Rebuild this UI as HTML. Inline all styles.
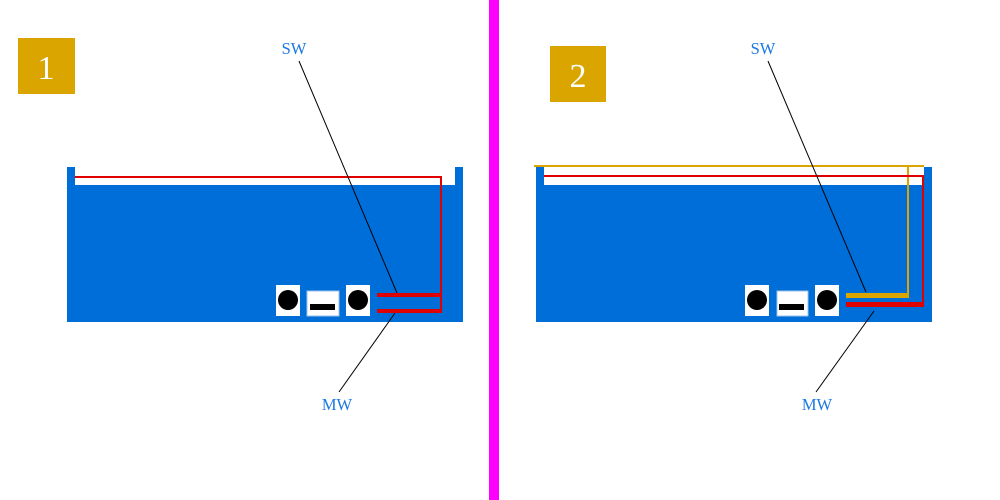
<!DOCTYPE html>
<html><head><style>html,body{margin:0;padding:0;background:#fff;}svg{display:block}</style></head>
<body>
<svg width="1000" height="500" xmlns="http://www.w3.org/2000/svg">
<rect x="0" y="0" width="1000" height="500" fill="#fff"/>
<rect x="489" y="0" width="10" height="500" fill="#ff00ff"/>
<!-- Panel 1 -->
<rect x="18" y="38" width="57" height="56" fill="#dba500"/>
<text x="46" y="79" font-family="Liberation Serif, serif" font-size="34" fill="#fff" text-anchor="middle">1</text>
<rect x="67" y="167" width="8" height="155" fill="#006ed8"/>
<rect x="455" y="167" width="8" height="155" fill="#006ed8"/>
<rect x="67" y="185" width="396" height="137" fill="#006ed8"/>
<rect x="75" y="176" width="367" height="2" fill="#e00000"/>
<rect x="440" y="176" width="2" height="137" fill="#e00000"/>
<rect x="377" y="293" width="65" height="4" fill="#e00000"/>
<rect x="377" y="309" width="65" height="4" fill="#e00000"/>
<rect x="276" y="285" width="24" height="31" fill="#fff"/>
<circle cx="288" cy="300" r="10" fill="#000"/>
<rect x="307" y="291" width="32" height="25" fill="#fff" stroke="#9cc3ec" stroke-width="1"/>
<rect x="310" y="304" width="25" height="6" fill="#000"/>
<rect x="346" y="285" width="24" height="31" fill="#fff"/>
<circle cx="358" cy="300" r="10" fill="#000"/>
<line x1="299" y1="61" x2="397" y2="293" stroke="#000" stroke-width="1"/>
<line x1="395" y1="313" x2="339" y2="392" stroke="#000" stroke-width="1"/>
<text x="294" y="54" font-family="Liberation Serif, serif" font-size="16.5" fill="#1a78e0" text-anchor="middle">SW</text>
<text x="337" y="410" font-family="Liberation Serif, serif" font-size="16.5" fill="#1a78e0" text-anchor="middle">MW</text>
<!-- Panel 2 -->
<rect x="550" y="46" width="56" height="56" fill="#dba500"/>
<text x="578" y="87" font-family="Liberation Serif, serif" font-size="34" fill="#fff" text-anchor="middle">2</text>
<rect x="536" y="167" width="8" height="155" fill="#006ed8"/>
<rect x="924" y="167" width="8" height="155" fill="#006ed8"/>
<rect x="536" y="185" width="396" height="137" fill="#006ed8"/>
<rect x="534" y="165" width="390" height="2" fill="#dba500"/>
<rect x="907" y="165" width="2" height="133" fill="#dba500"/>
<rect x="544" y="175" width="380" height="2" fill="#e00000"/>
<rect x="922" y="175" width="2" height="132" fill="#e00000"/>
<rect x="846" y="293" width="63" height="5" fill="#dba500"/>
<rect x="846" y="302" width="78" height="5" fill="#e00000"/>
<rect x="745" y="285" width="24" height="31" fill="#fff"/>
<circle cx="757" cy="300" r="10" fill="#000"/>
<rect x="777" y="291" width="31" height="25" fill="#fff" stroke="#9cc3ec" stroke-width="1"/>
<rect x="779" y="304" width="25" height="6" fill="#000"/>
<rect x="815" y="285" width="24" height="31" fill="#fff"/>
<circle cx="827" cy="300" r="10" fill="#000"/>
<line x1="768" y1="61" x2="866" y2="292" stroke="#000" stroke-width="1"/>
<line x1="874" y1="311" x2="816" y2="392" stroke="#000" stroke-width="1"/>
<text x="763" y="54" font-family="Liberation Serif, serif" font-size="16.5" fill="#1a78e0" text-anchor="middle">SW</text>
<text x="817" y="410" font-family="Liberation Serif, serif" font-size="16.5" fill="#1a78e0" text-anchor="middle">MW</text>
</svg>
</body></html>
